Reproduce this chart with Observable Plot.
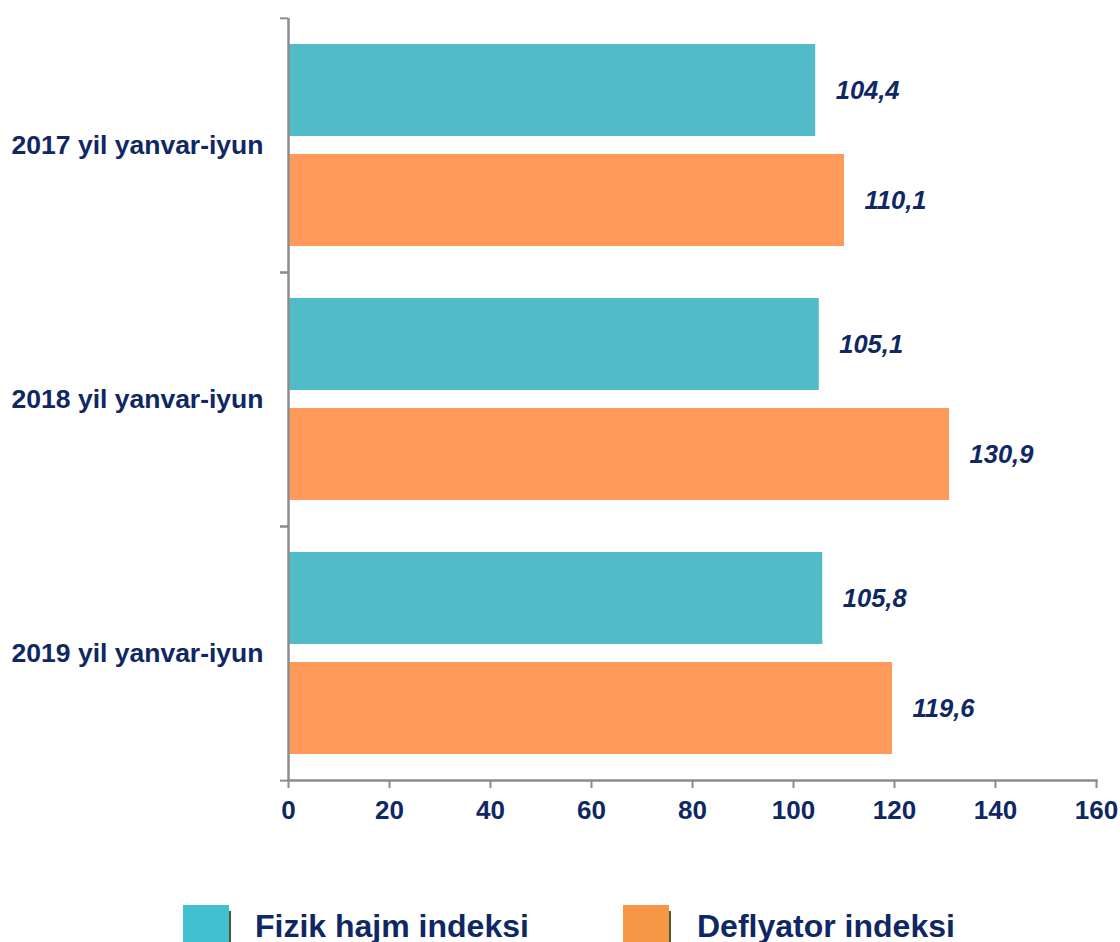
<!DOCTYPE html>
<html>
<head>
<meta charset="utf-8">
<script src="https://cdn.jsdelivr.net/npm/d3@7"></script>
<script src="https://cdn.jsdelivr.net/npm/@observablehq/plot@0.6"></script>
<style>
  html, body { margin: 0; padding: 0; background: #fff; }
  body { width: 1120px; height: 942px; overflow: hidden; font-family: "Liberation Sans", Arial, sans-serif; }
  #chart svg { display: block; }
  #legend { position: relative; height: 62px; }
  .sw { position: absolute; top: 25px; width: 46px; height: 42px; box-shadow: 3px 5px 0 -1px #4d5a2a; }
  .lt { position: absolute; top: 26px; font-size: 32px; font-weight: bold; color: #0f2864; line-height: 40px; white-space: nowrap; }
</style>
</head>
<body>
<div id="chart"></div>
<div id="legend"></div>
<script>
const categories = ["2017 yil yanvar-iyun", "2018 yil yanvar-iyun", "2019 yil yanvar-iyun"];
const seriesNames = ["Fizik hajm indeksi", "Deflyator indeksi"];
const fizikValues = [104.4, 105.1, 105.8];
const deflyatorValues = [110.1, 130.9, 119.6];
const xTicks = [0, 20, 40, 60, 80, 100, 120, 140, 160];
const barColors = ["#52bbc8", "#ff9a5a"];
const legendColors = ["#41c0cf", "#f79646"];

const navy = "#0f2864";
const gray = "#8c8c8c";

const data = [];
categories.forEach((c, i) => {
  data.push({cat: c, series: seriesNames[0], value: fizikValues[i]});
  data.push({cat: c, series: seriesNames[1], value: deflyatorValues[i]});
});
const fmt = v => d3.format(".1f")(v).replace(".", ",");

const W = 1120, H = 880, mT = 17, mB = 100, mL = 288, mR = 24;
const facetH = (H - mT - mB) / categories.length;

const chart = Plot.plot({
  width: W,
  height: H,
  marginTop: mT,
  marginBottom: mB,
  marginLeft: mL,
  marginRight: mR,
  style: {fontFamily: "'Liberation Sans', Arial, sans-serif", background: "#fff"},
  x: {domain: [0, 160], axis: null, label: null},
  y: {domain: seriesNames, axis: null, label: null, paddingInner: 0.162, paddingOuter: 0.23},
  fy: {domain: categories, axis: null, label: null, padding: 0},
  color: {domain: seriesNames, range: barColors},
  marks: [
    Plot.barX(data, {fy: "cat", y: "series", x: "value", fill: "series"}),
    Plot.text(data, {
      fy: "cat", y: "series", x: "value", text: d => fmt(d.value),
      dx: 20, textAnchor: "start", fontSize: 25.5, fontWeight: "bold", fontStyle: "italic", fill: navy
    }),
    Plot.ruleX([0], {stroke: gray, strokeWidth: 2.5}),
    Plot.frame({anchor: "bottom", facetAnchor: "bottom", stroke: gray, strokeWidth: 2.5}),
    Plot.axisX({
      ticks: xTicks, tickSize: 8, tickPadding: 12, stroke: gray, strokeWidth: 2, label: null,
      fontSize: 26, fontWeight: "bold", fill: navy, tickFormat: d => String(d)
    }),
    Plot.axisFy({
      anchor: "left", label: null, tickSize: 0, tickPadding: 25, fontSize: 26.5, fontWeight: "bold", fill: navy
    }),
    Plot.axisFy({
      anchor: "left", label: null, tickSize: 8, tickFormat: () => "", dy: -facetH / 2, stroke: gray, strokeWidth: 2
    }),
    Plot.axisFy({
      anchor: "left", label: null, tickSize: 8, tickFormat: () => "", dy: facetH / 2, stroke: gray, strokeWidth: 2
    })
  ]
});
document.getElementById("chart").appendChild(chart);

const legend = document.getElementById("legend");
const legendPos = [{sq: 183, tx: 255}, {sq: 623, tx: 697}];
seriesNames.forEach((name, i) => {
  const sw = document.createElement("div");
  sw.className = "sw";
  sw.style.left = legendPos[i].sq + "px";
  sw.style.background = legendColors[i];
  legend.appendChild(sw);
  const t = document.createElement("div");
  t.className = "lt";
  t.style.left = legendPos[i].tx + "px";
  t.textContent = name;
  legend.appendChild(t);
});
</script>
</body>
</html>
